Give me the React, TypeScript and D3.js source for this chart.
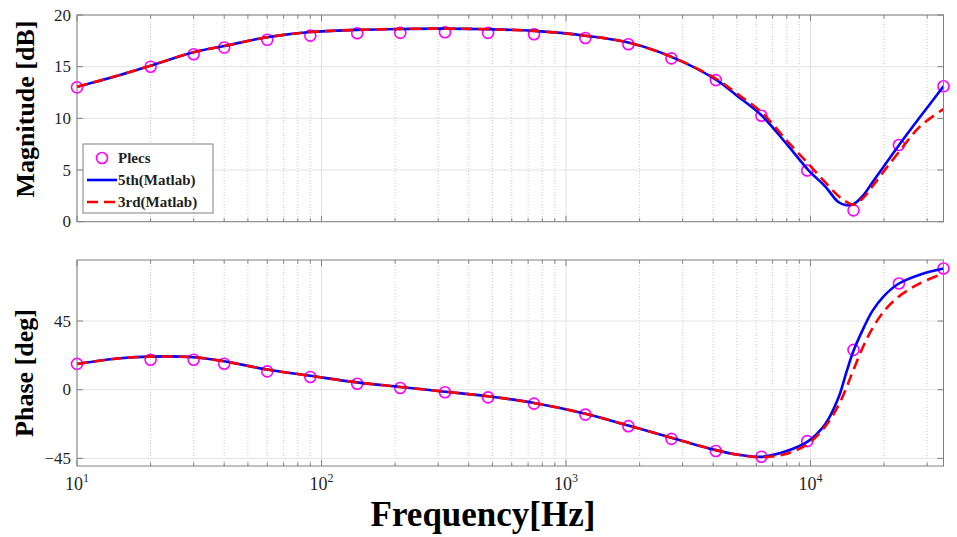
import * as d3 from "d3"

// Plecs simulation points
const plecsFreq = [10, 20, 30, 40, 60, 90, 140, 210, 320, 480, 740, 1200, 1800, 2700, 4100, 6300, 9700, 15000, 23000, 35000]
const plecsMag = [13.0, 15.0, 16.2, 16.85, 17.6, 18.0, 18.24, 18.27, 18.33, 18.27, 18.14, 17.78, 17.17, 15.8, 13.7, 10.25, 4.95, 1.1, 7.42, 13.1]
const plecsPhase = [16.9, 19.6, 19.6, 17.0, 12.0, 8.3, 3.9, 1.1, -1.7, -5.0, -9.1, -16.3, -23.9, -32.2, -40.2, -43.9, -33.7, 26.1, 69.6, 79.4]

// Matlab model curves, read at these frequencies
const lineFreq = [10, 15, 20, 30, 40, 60, 90, 140, 210, 320, 480, 740, 1200, 1800, 2700, 4100, 5000, 6300, 8000, 9800, 11500, 13000, 14000, 15000, 16500, 17900, 20000, 23000, 28000, 35000]
const mag5th = [13.05, 14.2, 15.1, 16.4, 17.0, 17.85, 18.35, 18.56, 18.65, 18.68, 18.62, 18.46, 18.0, 17.33, 15.95, 13.75, 12.2, 10.3, 7.5, 5.0, 3.4, 1.9, 1.6, 1.7, 2.6, 3.8, 5.4, 7.4, 10.1, 13.1]
const mag3rd = [13.05, 14.2, 15.1, 16.4, 17.0, 17.85, 18.35, 18.56, 18.65, 18.68, 18.62, 18.46, 18.0, 17.33, 15.95, 13.85, 12.4, 10.6, 7.85, 5.6, 3.8, 2.5, 1.94, 1.65, 2.35, 3.4, 4.9, 6.75, 9.2, 10.9]
const phase5th = [16.9, 20.6, 21.7, 21.3, 18.6, 13.2, 9.1, 4.8, 1.8, -1.3, -4.3, -8.7, -15.7, -23.5, -31.5, -39.6, -42.5, -44.0, -40.2, -33.7, -22.5, -5.5, 11.0, 25.5, 40.5, 51.5, 61.5, 69.6, 75.4, 79.4]
const phase3rd = [16.9, 20.6, 21.7, 21.3, 18.6, 13.2, 9.1, 4.8, 1.8, -1.3, -4.3, -8.7, -15.7, -23.5, -31.5, -39.6, -42.5, -44.2, -41.9, -35.3, -24.0, -10.5, 1.0, 13.2, 29.0, 40.0, 51.5, 61.1, 69.7, 76.1]

const magTicks = [0, 5, 10, 15, 20]
const phaseTicks = [-45, 0, 45]
const decadeTicks = [10, 100, 1000, 10000]

const FONT = "'Liberation Serif', serif"
const AXIS = "#808080"
const TXT = "#1f1f1f"

const x = d3.scaleLog().domain([10, 35000]).range([77, 943.5])
const magY = d3.scaleLinear().domain([0, 20]).range([221.7, 15])
const phY = d3.scaleLinear().domain([-50, 85]).range([466, 260])

const allXTicks = x.ticks().filter((t) => t >= 10 && t <= 35000)
const isDecade = (t: number) => Math.abs(Math.log10(t) - Math.round(Math.log10(t))) < 1e-9

function Panel({ y, ticks, pts, blue, red }: {
  y: d3.ScaleLinear<number, number>
  ticks: number[]
  pts: number[]
  blue: number[]
  red: number[]
}) {
  const [x0, x1] = x.range()
  const [yb, yt] = y.range()
  const line = d3
    .line<number>()
    .x((_, i) => x(lineFreq[i]))
    .y((d) => y(d))
    .curve(d3.curveCatmullRom.alpha(0.5))

  return (
    <g>
      <rect x={x0} y={yt} width={x1 - x0} height={yb - yt} fill="#fff" />
      {/* grid */}
      {allXTicks.map((t) =>
        isDecade(t) ? (
          <line key={"g" + t} x1={x(t)} x2={x(t)} y1={yt} y2={yb} stroke="#e3e3e3" strokeWidth={1} />
        ) : (
          <line key={"g" + t} x1={x(t)} x2={x(t)} y1={yt} y2={yb} stroke="#bdbdbd" strokeWidth={0.8} strokeDasharray="1,2" />
        ),
      )}
      {ticks.map((t) => (
        <line key={"h" + t} x1={x0} x2={x1} y1={y(t)} y2={y(t)} stroke="#e3e3e3" strokeWidth={1} />
      ))}

      {/* data */}
      {pts.map((v, i) => (
        <circle key={"p" + i} cx={x(plecsFreq[i])} cy={y(v)} r={5.5} fill="none" stroke="#ff00ff" strokeWidth={1.6} />
      ))}
      <path d={line(blue) ?? ""} fill="none" stroke="#0000ff" strokeWidth={2.6} />
      <path d={line(red) ?? ""} fill="none" stroke="#ff0000" strokeWidth={2.6} strokeDasharray="11,6" />

      {/* box + ticks */}
      <rect x={x0} y={yt} width={x1 - x0} height={yb - yt} fill="none" stroke={AXIS} strokeWidth={1} />
      {allXTicks.map((t) => {
        const len = isDecade(t) ? 6 : 3.5
        return (
          <g key={"t" + t}>
            <line x1={x(t)} x2={x(t)} y1={yb} y2={yb - len} stroke={AXIS} />
            <line x1={x(t)} x2={x(t)} y1={yt} y2={yt + len} stroke={AXIS} />
          </g>
        )
      })}
      {ticks.map((t) => (
        <g key={"yt" + t}>
          <line x1={x0} x2={x0 + 6} y1={y(t)} y2={y(t)} stroke={AXIS} />
          <line x1={x1} x2={x1 - 6} y1={y(t)} y2={y(t)} stroke={AXIS} />
          <text x={x0 - 6} y={y(t) + 5.5} textAnchor="end" fontFamily={FONT} fontSize={17} fill={TXT}>
            {t < 0 ? "\u2212" + Math.abs(t) : t}
          </text>
        </g>
      ))}
    </g>
  )
}

export default function App() {
  return (
    <svg width={957} height={537} style={{ position: "absolute", left: 0, top: 0, background: "#fff" }}>
      <rect width={957} height={537} fill="#fff" />
      <Panel y={magY} ticks={magTicks} pts={plecsMag} blue={mag5th} red={mag3rd} />
      <Panel y={phY} ticks={phaseTicks} pts={plecsPhase} blue={phase5th} red={phase3rd} />

      {/* x tick labels */}
      {decadeTicks.map((t) => (
        <text key={t} x={x(t)} y={490} textAnchor="middle" fontFamily={FONT} fontSize={18} fill={TXT}>
          10<tspan dy={-8} fontSize={12}>{Math.round(Math.log10(t))}</tspan>
        </text>
      ))}

      {/* axis titles */}
      <text transform="translate(34,109) rotate(-90)" textAnchor="middle" fontFamily={FONT} fontSize={26} fontWeight="bold" fill="#000">
        Magnitude [dB]
      </text>
      <text transform="translate(33,373) rotate(-90)" textAnchor="middle" fontFamily={FONT} fontSize={26} fontWeight="bold" fill="#000">
        Phase [deg]
      </text>
      <text x={483} y={526} textAnchor="middle" fontFamily={FONT} fontSize={35} fontWeight="bold" fill="#000">
        Frequency[Hz]
      </text>

      {/* legend */}
      <g>
        <rect x={83} y={144} width={130} height={69} fill="#fff" stroke={AXIS} strokeWidth={1} />
        <circle cx={102} cy={158} r={5.5} fill="none" stroke="#ff00ff" strokeWidth={1.6} />
        <line x1={87} x2={117} y1={180} y2={180} stroke="#0000ff" strokeWidth={2.6} />
        <line x1={87} x2={117} y1={202} y2={202} stroke="#ff0000" strokeWidth={2.6} strokeDasharray="11,6" />
        {["Plecs", "5th(Matlab)", "3rd(Matlab)"].map((s, i) => (
          <text key={s} x={118} y={163 + i * 22} fontFamily={FONT} fontSize={15} fontWeight="bold" fill={TXT}>
            {s}
          </text>
        ))}
      </g>
    </svg>
  )
}
